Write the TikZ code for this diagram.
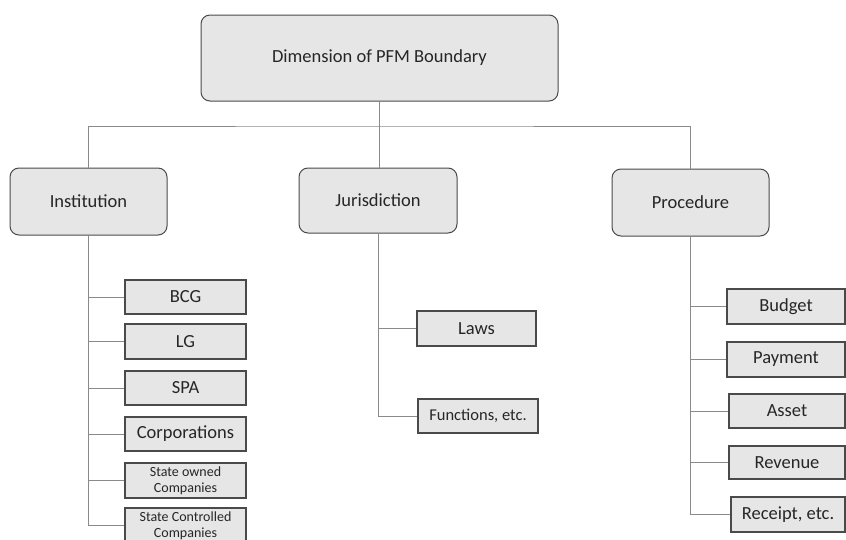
\documentclass[tikz,border=0pt]{standalone}
\usepackage{fontspec}
\setmainfont{Carlito}
\definecolor{boxfill}{HTML}{E6E6E6}
\definecolor{boxdraw}{HTML}{4A4A4A}
\definecolor{linecol}{HTML}{8A8A8A}
\begin{document}
\begin{tikzpicture}[x=1pt,y=-1pt,
  rbox/.style={draw=boxdraw,fill=boxfill,rounded corners=9pt,line width=1pt,inner sep=0pt,font=\fontsize{18.5}{20}\selectfont,text=black!85},
  leaf/.style={draw=boxdraw,fill=boxfill,line width=1.1pt,inner sep=0pt,font=\fontsize{18.5}{20}\selectfont,text=black!85,align=center},
  small/.style={font=\fontsize{14}{16}\selectfont},
  conn/.style={draw=linecol,line width=0.9pt}]
\useasboundingbox (0,0) rectangle (846,539);
\clip (0,0) rectangle (846,539);
\node[rbox,minimum width=357pt,minimum height=86pt] (top) at (379.5,58) {Dimension of PFM Boundary};
\node[rbox,minimum width=157pt,minimum height=67pt] (inst) at (88.5,201.5) {Institution};
\node[rbox,minimum width=158pt,minimum height=65pt] (jur) at (378,200.5) {Jurisdiction};
\node[rbox,minimum width=157pt,minimum height=67pt] (proc) at (690.5,202.5) {Procedure};
\coordinate (bus) at (380,126);
\draw[conn] (inst.north) |- (bus) -| (proc.north);
\draw[conn] (top.south) -- (top.south |- jur.north);
% Institution children
\node[leaf,minimum width=121pt,minimum height=34pt] (bcg) at (185.5,297) {BCG};
\node[leaf,minimum width=121pt,minimum height=35pt] (lg) at (185.5,341.5) {LG};
\node[leaf,minimum width=121pt,minimum height=34pt] (spa) at (185.5,388) {SPA};
\node[leaf,minimum width=121pt,minimum height=34pt] (corp) at (185.5,434) {Corporations};
\node[leaf,small,minimum width=121pt,minimum height=35pt] (so) at (185.5,480.5) {State owned\\Companies};
\node[leaf,small,minimum width=121pt,minimum height=35pt] (sc) at (185.5,525.5) {State Controlled\\Companies};
\foreach \c in {bcg,lg,spa,corp,so,sc} \draw[conn] (inst.south) |- (\c.west);
% Jurisdiction children
\node[leaf,minimum width=119pt,minimum height=35pt] (laws) at (476.5,328.5) {Laws};
\node[leaf,font=\fontsize{16.5}{18}\selectfont,minimum width=120pt,minimum height=34pt] (func) at (478,416) {Functions, etc.};
\foreach \c in {laws,func} \draw[conn] (jur.south) |- (\c.west);
% Procedure children
\node[leaf,minimum width=118pt,minimum height=35pt] (bud) at (786,306.5) {Budget};
\node[leaf,minimum width=118pt,minimum height=35pt] (pay) at (786,359.5) {Payment};
\node[leaf,minimum width=116pt,minimum height=34pt] (asset) at (787,411) {Asset};
\node[leaf,minimum width=116pt,minimum height=33pt] (rev) at (787,462.5) {Revenue};
\node[leaf,minimum width=114pt,minimum height=35pt] (rec) at (788,514.5) {Receipt, etc.};
\foreach \c in {bud,pay,asset,rev,rec} \draw[conn] (proc.south) |- (\c.west);
\end{tikzpicture}
\end{document}
